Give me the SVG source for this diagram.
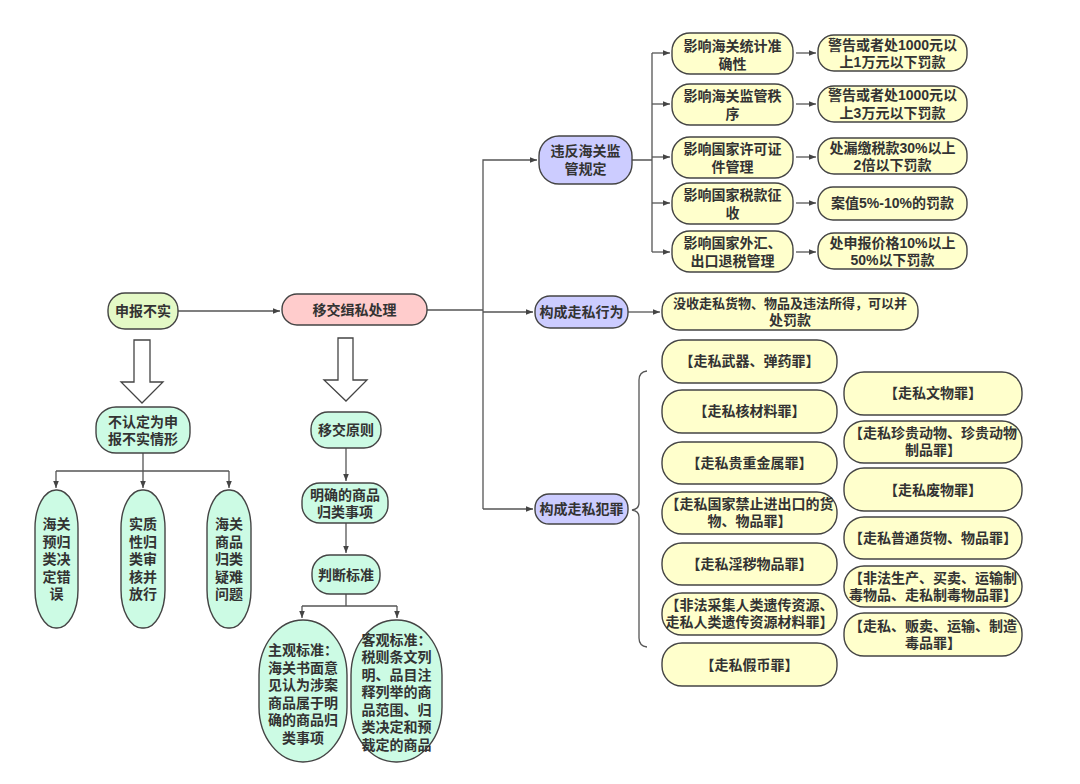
<svg xmlns="http://www.w3.org/2000/svg" width="1080" height="784" viewBox="0 0 1080 784">
<defs>
<style>
.n{stroke:#444;stroke-width:1.4}
.y{fill:#ffffcc}.p{fill:#ccccff}.k{fill:#ffcccc}.g{fill:#e4f9c6}.m{fill:#ccfbe4}
text{font-family:"Liberation Sans","Noto Sans CJK SC",sans-serif;font-weight:bold;font-size:14px;fill:#333;text-anchor:middle;dominant-baseline:central}
tspan{dominant-baseline:central}
.c{fill:none;stroke:#555;stroke-width:1.3}
.h{fill:#fff;stroke:#444;stroke-width:1.3}
</style>
<marker id="a" viewBox="0 0 10 10" refX="10" refY="5" markerWidth="7" markerHeight="7" orient="auto" markerUnits="userSpaceOnUse"><path d="M0,1 L10,5 L0,9 z" fill="#444"/></marker>
</defs>
<rect width="1080" height="784" fill="#fff"/>
<g id="connectors">
<path class="c" d="M178,311 L280,311" marker-end="url(#a)"/>
<path class="c" d="M427,310 L483,310"/>
<path class="c" d="M483,509 L483,160 L537,160" marker-end="url(#a)"/>
<path class="c" d="M483,312 L533,312" marker-end="url(#a)"/>
<path class="c" d="M483,509 L533,509" marker-end="url(#a)"/>
<path class="c" d="M628,312 L660,312" marker-end="url(#a)"/>
<path class="c" d="M632,160 L652,160 M652,53 L652,252"/>
<path class="c" d="M652,53 L670,53" marker-end="url(#a)"/>
<path class="c" d="M652,104 L670,104" marker-end="url(#a)"/>
<path class="c" d="M652,157 L670,157" marker-end="url(#a)"/>
<path class="c" d="M652,203 L670,203" marker-end="url(#a)"/>
<path class="c" d="M652,252 L670,252" marker-end="url(#a)"/>
<path class="c" d="M796,53 L816,53" marker-end="url(#a)"/>
<path class="c" d="M796,104 L816,104" marker-end="url(#a)"/>
<path class="c" d="M796,157 L816,157" marker-end="url(#a)"/>
<path class="c" d="M796,203 L816,203" marker-end="url(#a)"/>
<path class="c" d="M796,252 L816,252" marker-end="url(#a)"/>
<path class="c" d="M647,371 Q639,372 639,380 L639,503 Q639,509 632,510 Q639,511 639,517 L639,638 Q639,646 647,647"/>
<polygon class="h" points="134,340 150,340 150,382 163,382 142,403 121,382 134,382"/>
<polygon class="h" points="338,338 353,338 353,380 367,380 346,401 324,380 338,380"/>
<path class="c" d="M143,453 L143,471 M56,471 L229,471"/>
<path class="c" d="M56,471 L56,488" marker-end="url(#a)"/>
<path class="c" d="M143,471 L143,488" marker-end="url(#a)"/>
<path class="c" d="M229,471 L229,488" marker-end="url(#a)"/>
<path class="c" d="M346,448 L346,481" marker-end="url(#a)"/>
<path class="c" d="M346,523 L346,553" marker-end="url(#a)"/>
<path class="c" d="M346,594 L346,606 M302,606 L397,606"/>
<path class="c" d="M302,606 L302,618" marker-end="url(#a)"/>
<path class="c" d="M397,606 L397,618" marker-end="url(#a)"/>
</g>
<g id="shenbao"><rect class="n g" x="108" y="293" width="70" height="36" rx="17"/><text x="143" y="311">申报不实</text></g>
<g id="yijiao"><rect class="n k" x="282" y="294" width="145" height="31" rx="15"/><text x="354.5" y="310">移交缉私处理</text></g>
<g id="weifan"><rect class="n p" x="539" y="136" width="93" height="48" rx="20"/><text><tspan x="585.5" y="151">违反海关监</tspan><tspan x="585.5" y="169">管规定</tspan></text></g>
<g id="c1r1"><rect class="n y" x="672" y="33" width="121" height="41" rx="18"/><text><tspan x="732.5" y="45.5">影响海关统计准</tspan><tspan x="732.5" y="63.5">确性</tspan></text></g>
<g id="c1r2"><rect class="n y" x="672" y="84" width="121" height="41" rx="18"/><text><tspan x="732.5" y="96">影响海关监管秩</tspan><tspan x="732.5" y="114">序</tspan></text></g>
<g id="c1r3"><rect class="n y" x="672" y="137" width="121" height="41" rx="18"/><text><tspan x="732.5" y="148.5">影响国家许可证</tspan><tspan x="732.5" y="166.5">件管理</tspan></text></g>
<g id="c1r4"><rect class="n y" x="672" y="183" width="121" height="41" rx="18"/><text><tspan x="732.5" y="195">影响国家税款征</tspan><tspan x="732.5" y="213">收</tspan></text></g>
<g id="c1r5"><rect class="n y" x="672" y="231" width="121" height="41" rx="18"/><text><tspan x="732.5" y="243">影响国家外汇、</tspan><tspan x="732.5" y="261">出口退税管理</tspan></text></g>
<g id="c2r1"><rect class="n y" x="818" y="35" width="149" height="36" rx="16"/><text><tspan x="892.5" y="44.5">警告或者处1000元以</tspan><tspan x="892.5" y="62">上1万元以下罚款</tspan></text></g>
<g id="c2r2"><rect class="n y" x="818" y="86" width="149" height="36" rx="16"/><text><tspan x="892.5" y="95">警告或者处1000元以</tspan><tspan x="892.5" y="112.5">上3万元以下罚款</tspan></text></g>
<g id="c2r3"><rect class="n y" x="818" y="138" width="149" height="36" rx="16"/><text><tspan x="892.5" y="147.5">处漏缴税款30%以上</tspan><tspan x="892.5" y="165">2倍以下罚款</tspan></text></g>
<g id="c2r4"><rect class="n y" x="818" y="187" width="149" height="33" rx="15"/><text x="892.5" y="203">案值5%-10%的罚款</text></g>
<g id="c2r5"><rect class="n y" x="818" y="233" width="149" height="36" rx="16"/><text><tspan x="892.5" y="242.5">处申报价格10%以上</tspan><tspan x="892.5" y="260">50%以下罚款</tspan></text></g>
<g id="xingwei"><rect class="n p" x="535" y="296" width="93" height="32" rx="15"/><text x="581.5" y="312">构成走私行为</text></g>
<g id="moshou"><rect class="n y" x="662" y="293" width="256" height="37" rx="17"/><text><tspan x="790" y="302.5" style="font-size:13px">没收走私货物、物品及违法所得，可以并</tspan><tspan x="790" y="320">处罚款</tspan></text></g>
<g id="fanzui"><rect class="n p" x="535" y="494" width="93" height="30" rx="14"/><text x="581.5" y="509">构成走私犯罪</text></g>
<g id="l1"><rect class="n y" x="662" y="340" width="175" height="43" rx="20"/><text x="749.5" y="361">【走私武器、弹药罪】</text></g>
<g id="l2"><rect class="n y" x="662" y="390" width="175" height="43" rx="20"/><text x="749.5" y="411">【走私核材料罪】</text></g>
<g id="l3"><rect class="n y" x="662" y="442" width="175" height="42" rx="20"/><text x="749.5" y="463">【走私贵重金属罪】</text></g>
<g id="l4"><rect class="n y" x="662" y="492" width="175" height="42" rx="20"/><text><tspan x="749.5" y="503.5">【走私国家禁止进出口的货</tspan><tspan x="749.5" y="521">物、物品罪】</tspan></text></g>
<g id="l5"><rect class="n y" x="662" y="543" width="175" height="42" rx="20"/><text x="749.5" y="564">【走私淫秽物品罪】</text></g>
<g id="l6"><rect class="n y" x="662" y="593" width="175" height="42" rx="20"/><text><tspan x="749.5" y="604.5">【非法采集人类遗传资源、</tspan><tspan x="749.5" y="622">走私人类遗传资源材料罪】</tspan></text></g>
<g id="l7"><rect class="n y" x="662" y="643" width="175" height="43" rx="20"/><text x="749.5" y="665">【走私假币罪】</text></g>
<g id="r1"><rect class="n y" x="844" y="372" width="178" height="43" rx="20"/><text x="933" y="393">【走私文物罪】</text></g>
<g id="r2"><rect class="n y" x="844" y="421" width="178" height="42" rx="20"/><text><tspan x="933" y="432.5">【走私珍贵动物、珍贵动物</tspan><tspan x="933" y="450">制品罪】</tspan></text></g>
<g id="r3"><rect class="n y" x="844" y="468" width="178" height="43" rx="20"/><text x="933" y="490">【走私废物罪】</text></g>
<g id="r4"><rect class="n y" x="844" y="517" width="178" height="42" rx="20"/><text x="933" y="538">【走私普通货物、物品罪】</text></g>
<g id="r5"><rect class="n y" x="844" y="566" width="178" height="41" rx="20"/><text><tspan x="933" y="577.5">【非法生产、买卖、运输制</tspan><tspan x="933" y="595">毒物品、走私制毒物品罪】</tspan></text></g>
<g id="r6"><rect class="n y" x="844" y="613" width="178" height="43" rx="20"/><text><tspan x="933" y="625.5">【走私、贩卖、运输、制造</tspan><tspan x="933" y="643">毒品罪】</tspan></text></g>
<g id="burending"><rect class="n m" x="96" y="407" width="94" height="46" rx="20"/><text><tspan x="143" y="421.5">不认定为申</tspan><tspan x="143" y="439">报不实情形</tspan></text></g>
<g id="e1"><rect class="n m" x="35" y="490" width="43" height="138" rx="21" ry="38"/><text><tspan x="56.5" y="524">海关</tspan><tspan x="56.5" y="541.5">预归</tspan><tspan x="56.5" y="559">类决</tspan><tspan x="56.5" y="576.5">定错</tspan><tspan x="56.5" y="594">误</tspan></text></g>
<g id="e2"><rect class="n m" x="121" y="490" width="44" height="138" rx="21" ry="38"/><text><tspan x="143" y="524">实质</tspan><tspan x="143" y="541.5">性归</tspan><tspan x="143" y="559">类审</tspan><tspan x="143" y="576.5">核并</tspan><tspan x="143" y="594">放行</tspan></text></g>
<g id="e3"><rect class="n m" x="207" y="490" width="44" height="138" rx="21" ry="38"/><text><tspan x="229" y="524">海关</tspan><tspan x="229" y="541.5">商品</tspan><tspan x="229" y="559">归类</tspan><tspan x="229" y="576.5">疑难</tspan><tspan x="229" y="594">问题</tspan></text></g>
<g id="yuanze"><rect class="n m" x="311" y="412" width="70" height="36" rx="17"/><text x="346" y="430">移交原则</text></g>
<g id="mingque"><rect class="n m" x="302" y="483" width="86" height="40" rx="18"/><text><tspan x="345" y="494.5">明确的商品</tspan><tspan x="345" y="512">归类事项</tspan></text></g>
<g id="panduan"><rect class="n m" x="312" y="555" width="68" height="39" rx="18"/><text x="346" y="575">判断标准</text></g>
<g id="zhuguan"><rect class="n m" x="259" y="620" width="88" height="142" rx="44" ry="55"/><text><tspan x="303" y="650">主观标准：</tspan><tspan x="303" y="667.5">海关书面意</tspan><tspan x="303" y="685">见认为涉案</tspan><tspan x="303" y="702.5">商品属于明</tspan><tspan x="303" y="720">确的商品归</tspan><tspan x="303" y="737.5">类事项</tspan></text></g>
<g id="keguan"><rect class="n m" x="351" y="620" width="91" height="142" rx="45" ry="55"/><text><tspan x="396.5" y="639.5">客观标准：</tspan><tspan x="396.5" y="657">税则条文列</tspan><tspan x="396.5" y="674.5">明、品目注</tspan><tspan x="396.5" y="692">释列举的商</tspan><tspan x="396.5" y="709.5">品范围、归</tspan><tspan x="396.5" y="727">类决定和预</tspan><tspan x="396.5" y="744.5">裁定的商品</tspan></text></g>
</svg>
